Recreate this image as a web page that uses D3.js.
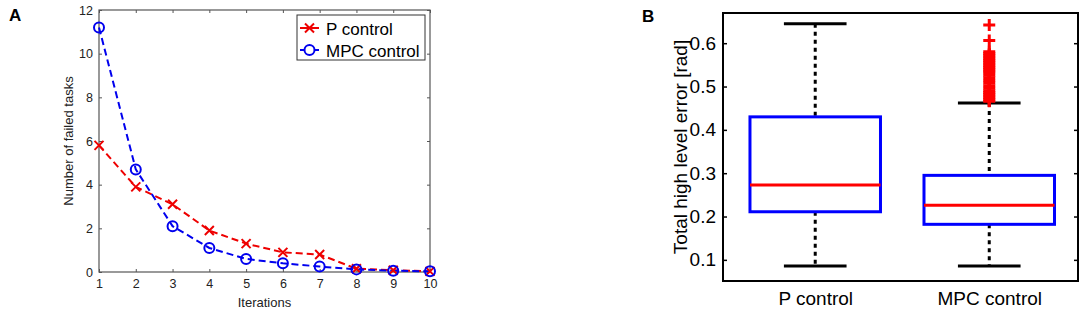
<!DOCTYPE html>
<html><head><meta charset="utf-8">
<script src="https://cdn.jsdelivr.net/npm/d3@7"></script>
<style>body{margin:0;background:#fff}svg{font-family:"Liberation Sans",Arial,sans-serif}</style>
</head><body>
<svg id="c" width="1084" height="314"></svg>
<script>
// Panel A data
const iterations = [1,2,3,4,5,6,7,8,9,10];
const pControl = [5.8,3.9,3.1,1.9,1.3,0.9,0.8,0.15,0.08,0.03];
const mpcControl = [11.2,4.7,2.1,1.1,0.6,0.4,0.25,0.12,0.06,0.03];
const yTicksA = [0,2,4,6,8,10,12];
// Panel B data
const boxCategories = ["P control","MPC control"];
const boxMin = [0.086,0.086];
const boxQ1 = [0.211,0.182];
const boxMedian = [0.273,0.226];
const boxQ3 = [0.430,0.295];
const boxMax = [0.645,0.462];
const mpcOutliers = [0.642,0.606,0.580,0.576,0.572,0.568,0.564,0.560,0.556,0.552,0.548,0.544,0.540,0.536,0.532,0.526,0.520,0.514,0.508,0.502,0.496,0.490,0.486,0.482,0.478,0.474,0.470,0.466];
const yTicksB = [0.1,0.2,0.3,0.4,0.5,0.6];

const svg = d3.select("#c");

// ---------- Panel A ----------
const A = {l:99,r:430,t:10,b:272};
const xA = d3.scaleLinear().domain([1,10]).range([A.l,A.r]);
const yA = d3.scaleLinear().domain([0,12]).range([A.b,A.t]);
const gA = svg.append("g");
const axCol = "#555";
gA.append("rect").attr("x",A.l).attr("y",A.t).attr("width",A.r-A.l).attr("height",A.b-A.t)
  .attr("fill","none").attr("stroke",axCol).attr("stroke-width",1.2);
const axL = gA.append("g").attr("transform",`translate(${A.l},0)`)
  .call(d3.axisLeft(yA).tickValues(yTicksA).tickSizeInner(-3).tickSizeOuter(0).tickPadding(6));
const axR = gA.append("g").attr("transform",`translate(${A.r},0)`)
  .call(d3.axisRight(yA).tickValues(yTicksA).tickSizeInner(-3).tickSizeOuter(0).tickFormat(""));
const axB = gA.append("g").attr("transform",`translate(0,${A.b})`)
  .call(d3.axisBottom(xA).tickValues(iterations).tickSizeInner(-3).tickSizeOuter(0).tickPadding(7));
const axT = gA.append("g").attr("transform",`translate(0,${A.t})`)
  .call(d3.axisTop(xA).tickValues(iterations).tickSizeInner(-3).tickSizeOuter(0).tickFormat(""));
[axL,axR,axB,axT].forEach(a=>{a.select(".domain").remove();a.selectAll("line").attr("stroke",axCol);
  a.selectAll("text").attr("font-size",12.5).attr("fill","#222").attr("font-family","Liberation Sans, Arial, sans-serif");});
gA.append("text").attr("x",(A.l+A.r)/2).attr("y",307).attr("text-anchor","middle").attr("font-size",13).attr("fill","#222").text("Iterations");
gA.append("text").attr("transform",`translate(73,${(A.t+A.b)/2}) rotate(-90)`).attr("text-anchor","middle").attr("font-size",13).attr("fill","#222").text("Number of failed tasks");
svg.append("text").attr("x",9).attr("y",21).attr("font-size",17).attr("font-weight","bold").text("A");

const lineA = d3.line().x((d,i)=>xA(iterations[i])).y(d=>yA(d));
gA.append("path").datum(pControl).attr("d",lineA).attr("fill","none").attr("stroke","#e00").attr("stroke-width",2).attr("stroke-dasharray","7,4");
gA.append("path").datum(mpcControl).attr("d",lineA).attr("fill","none").attr("stroke","#00e").attr("stroke-width",2).attr("stroke-dasharray","7,4");
const xMark = (g,cx,cy,s)=>g.append("path").attr("d",`M${cx-s},${cy-s}L${cx+s},${cy+s}M${cx-s},${cy+s}L${cx+s},${cy-s}`).attr("stroke","#e00").attr("stroke-width",2).attr("fill","none");
pControl.forEach((d,i)=>xMark(gA,xA(iterations[i]),yA(d),4.5));
gA.selectAll("circle.m").data(mpcControl).join("circle").attr("cx",(d,i)=>xA(iterations[i])).attr("cy",d=>yA(d)).attr("r",5)
  .attr("fill","none").attr("stroke","#00e").attr("stroke-width",2);
// legend
const lg = gA.append("g");
lg.append("rect").attr("x",297).attr("y",15).attr("width",128).attr("height",45).attr("fill","#fff").attr("stroke","#333").attr("stroke-width",1);
lg.append("line").attr("x1",300).attr("x2",319).attr("y1",28).attr("y2",28).attr("stroke","#e00").attr("stroke-width",2);
xMark(lg,309.5,28,4.5);
lg.append("text").attr("x",326).attr("y",35).attr("font-size",17).text("P control");
lg.append("line").attr("x1",300).attr("x2",319).attr("y1",50).attr("y2",50).attr("stroke","#00e").attr("stroke-width",2);
lg.append("circle").attr("cx",309.5).attr("cy",50).attr("r",5).attr("fill","#fff").attr("stroke","#00e").attr("stroke-width",2);
lg.append("text").attr("x",326).attr("y",57).attr("font-size",17).text("MPC control");

// ---------- Panel B ----------
const B = {l:723,r:1078,t:13,b:281};
const xB = d3.scaleLinear().domain([0.47,2.51]).range([B.l,B.r]);
const yB = d3.scaleLinear().domain([0.0512,0.6697]).range([B.b,B.t]);
const gB = svg.append("g");
svg.append("text").attr("x",642).attr("y",22).attr("font-size",17).attr("font-weight","bold").text("B");
const bL = gB.append("g").attr("transform",`translate(${B.l},0)`)
  .call(d3.axisLeft(yB).tickValues(yTicksB).tickFormat(d3.format(".1f")).tickSizeInner(-4).tickSizeOuter(0).tickPadding(7));
const bR = gB.append("g").attr("transform",`translate(${B.r},0)`)
  .call(d3.axisRight(yB).tickValues(yTicksB).tickSizeInner(-4).tickSizeOuter(0).tickFormat(""));
const bB = gB.append("g").attr("transform",`translate(0,${B.b})`)
  .call(d3.axisBottom(xB).tickValues([1,2]).tickFormat((d,i)=>boxCategories[i]).tickSize(0).tickPadding(11));
[bL,bR,bB].forEach(a=>{a.select(".domain").remove();a.selectAll("line").attr("stroke","#000").attr("stroke-width",1.5);
  a.selectAll("text").attr("font-size",19).attr("fill","#000").attr("font-family","Liberation Sans, Arial, sans-serif");});
gB.append("rect").attr("x",B.l).attr("y",B.t).attr("width",B.r-B.l).attr("height",B.b-B.t)
  .attr("fill","none").attr("stroke","#000").attr("stroke-width",2);
gB.append("text").attr("transform",`translate(687,${(B.t+B.b)/2}) rotate(-90)`).attr("text-anchor","middle").attr("font-size",19).text("Total high level error [rad]");

const boxW = 0.75, capW = 0.36;
boxCategories.forEach((c,i)=>{
  const cx = xB(i+1);
  const w = xB(1+boxW/2)-xB(1), cw = xB(1+capW/2)-xB(1);
  gB.append("line").attr("x1",cx).attr("x2",cx).attr("y1",yB(boxMax[i])).attr("y2",yB(boxQ3[i])).attr("stroke","#000").attr("stroke-width",3).attr("stroke-dasharray","4,4");
  gB.append("line").attr("x1",cx).attr("x2",cx).attr("y1",yB(boxQ1[i])).attr("y2",yB(boxMin[i])).attr("stroke","#000").attr("stroke-width",3).attr("stroke-dasharray","4,4");
  [boxMax[i],boxMin[i]].forEach(v=>gB.append("line").attr("x1",cx-cw).attr("x2",cx+cw).attr("y1",yB(v)).attr("y2",yB(v)).attr("stroke","#000").attr("stroke-width",3));
  gB.append("rect").attr("x",cx-w).attr("y",yB(boxQ3[i])).attr("width",2*w).attr("height",yB(boxQ1[i])-yB(boxQ3[i]))
    .attr("fill","none").attr("stroke","#00f").attr("stroke-width",3);
  gB.append("line").attr("x1",cx-w).attr("x2",cx+w).attr("y1",yB(boxMedian[i])).attr("y2",yB(boxMedian[i])).attr("stroke","#f00").attr("stroke-width",3);
});
const ox = xB(2);
mpcOutliers.forEach(v=>{
  const y = yB(v);
  gB.append("path").attr("d",`M${ox-6},${y}L${ox+6},${y}M${ox},${y-6}L${ox},${y+6}`).attr("stroke","#f00").attr("stroke-width",3);
});
</script>
</body></html>
